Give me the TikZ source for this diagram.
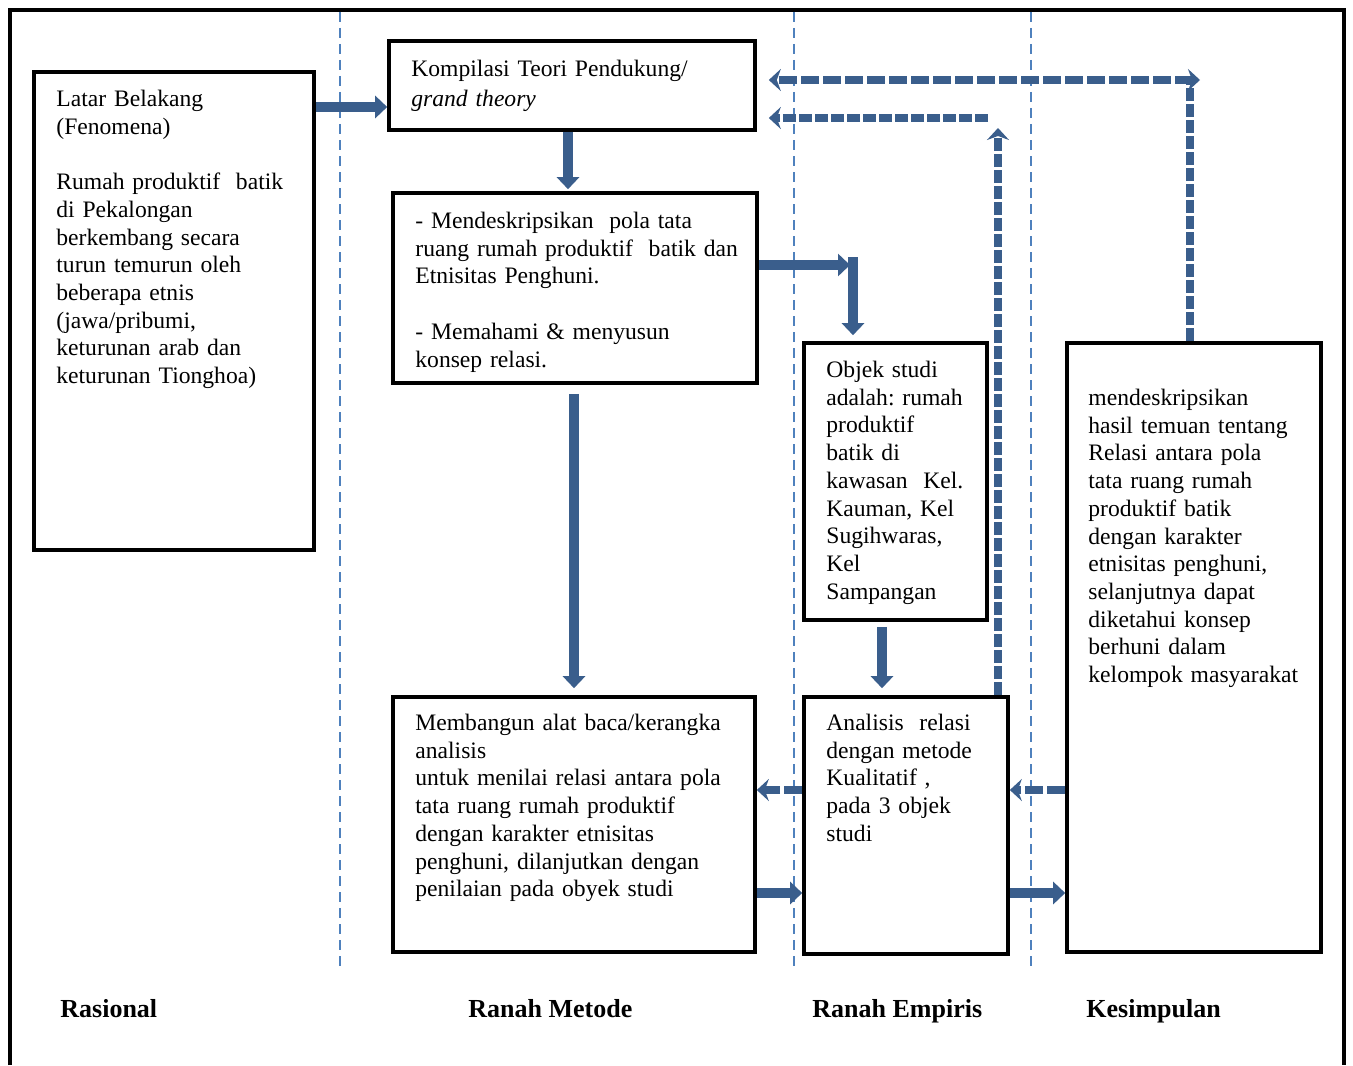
\documentclass[tikz,border=0pt]{standalone}
\usepackage{fontspec}
\setmainfont{Liberation Serif}
\usetikzlibrary{arrows.meta,fit,calc}
\definecolor{arrblue}{HTML}{3A5E8C}
\definecolor{divblue}{HTML}{4F81BD}
\frenchspacing
\begin{document}
\begin{tikzpicture}[x=0.5pt,y=-0.5pt,
  box/.style={draw=black,line width=1.8pt,inner sep=0pt},
  txt/.style={anchor=base west,inner sep=0pt,text width=200pt,align=left,font=\fontsize{11.8}{13.85}\selectfont\frenchspacing},
  solidarr/.style={draw=arrblue,line width=5pt,-{Triangle[width=11pt,length=6pt]}},
  dasharr/.style={draw=arrblue,line width=4pt,dash pattern=on 9pt off 2pt,-{Stealth[width=11pt,length=6pt,inset=2pt]}},
  dashline/.style={draw=arrblue,line width=4pt,dash pattern=on 9pt off 2pt},
  divider/.style={draw=divblue,line width=0.8pt,dash pattern=on 5pt off 3pt},
  lbl/.style={anchor=base west,inner sep=0pt,font=\fontsize{13}{15}\selectfont\bfseries}]
\useasboundingbox (0,0) rectangle (1353,1065);
% outer frame
\draw[line width=2pt] (10,1065) -- (10,10) -- (1344,10) -- (1344,1065);
% dividers
\draw[divider] (340,12) -- (340,967);
\draw[divider] (794,12) -- (794,967);
\draw[divider] (1031,12) -- (1031,967);
% boxes
\node[box,fit={(34,72) (314,550)}] (lat) {};
\node[box,fit={(389,41) (755,130)}] (kom) {};
\node[box,fit={(393,193) (757,383)}] (mend) {};
\node[box,fit={(393,697) (755,952)}] (memb) {};
\node[box,fit={(804,343) (987,620)}] (obj) {};
\node[box,fit={(804,697) (1008,954)}] (ana) {};
\node[box,fit={(1067,343) (1321,952)}] (kes) {};
% texts
\node[txt] (tlat) at (56,106.5) {Latar Belakang\\(Fenomena)\\[13.85pt]Rumah produktif\ \ batik\\di Pekalongan\\berkembang secara\\turun temurun oleh\\beberapa etnis\\(jawa/pribumi,\\keturunan arab dan\\keturunan Tionghoa)};
\node[txt] (tkom) at (411,77) {Kompilasi Teori Pendukung/\\[0.65pt]\textit{grand theory}};
\node[txt] (tmend) at (415,228.5) {- Mendeskripsikan\ \ pola tata\\ruang rumah produktif\ \ batik dan\\Etnisitas Penghuni.\\[13.85pt]- Memahami \& menyusun\\konsep relasi.};
\node[txt] (tmemb) at (415,730.5) {Membangun alat baca/kerangka\\analisis\\untuk menilai relasi antara pola\\tata ruang rumah produktif\\dengan karakter etnisitas\\penghuni, dilanjutkan dengan\\penilaian pada obyek studi};
\node[txt] (tobj) at (826,377.5) {Objek studi\\adalah: rumah\\produktif\\batik di\\kawasan\ \ Kel.\\Kauman, Kel\\Sugihwaras,\\Kel\\Sampangan};
\node[txt] (tana) at (826,730.5) {Analisis\ \ relasi\\dengan metode\\Kualitatif ,\\pada 3 objek\\studi};
\node[txt] (tkes) at (1088,405.5) {mendeskripsikan\\hasil temuan tentang\\Relasi antara pola\\tata ruang rumah\\produktif batik\\dengan karakter\\etnisitas penghuni,\\selanjutnya dapat\\diketahui konsep\\berhuni dalam\\kelompok masyarakat};
% bottom labels
\node[lbl] (l1) at (60,1017) {Rasional};
\node[lbl] (l2) at (468,1017) {Ranah Metode};
\node[lbl] (l3) at (812,1017) {Ranah Empiris};
\node[lbl] (l4) at (1086,1017) {Kesimpulan};
% coordinates for free ends
\coordinate (c1) at (850,265);
\coordinate (c1b) at (853,257);
\coordinate (c2) at (998,128);
\coordinate (c3) at (988,118);
\coordinate (c4) at (1190,80);
\coordinate (c5) at (1200,80);
% solid arrows
\draw[solidarr] (lat.east |- 0,107) -- (kom.west |- 0,107);
\draw[solidarr] (kom.south -| 568,0) -- ([yshift=1pt]mend.north -| 568,0);
\draw[solidarr] (mend.east |- 0,265) -- (c1);
\draw[solidarr] (c1b) -- ([yshift=3pt]obj.north -| 853,0);
\draw[solidarr,shorten <=4.5pt] (mend.south -| 574,0) -- ([yshift=3.5pt]memb.north -| 574,0);
\draw[solidarr,shorten <=2.5pt] (obj.south -| 882,0) -- ([yshift=3.5pt]ana.north -| 882,0);
\draw[solidarr] (memb.east |- 0,893) -- (ana.west |- 0,893);
\draw[solidarr] (ana.east |- 0,893) -- (kes.west |- 0,893);
% dashed arrows
\draw[dasharr] (ana.west |- 0,790) -- (memb.east |- 0,790);
\draw[dasharr] (kes.west |- 0,790) -- (ana.east |- 0,790);
\draw[dasharr,dash pattern=on 6.5pt off 1.5pt] (ana.north -| 998,0) -- (c2);
\draw[dasharr,dash pattern=on 6.5pt off 1.5pt,shorten >=6pt] (c3) -- (kom.east |- 0,118);
\draw[dashline,dash pattern=on 6.5pt off 1.5pt] (kes.north -| 1190,0) -- (c4);
\draw[dasharr,shorten >=6pt,{Stealth[width=11pt,length=6pt,inset=2pt]}-{Stealth[width=11pt,length=6pt,inset=2pt]}] (c5) -- (kom.east |- 0,80);
\end{tikzpicture}
\end{document}
